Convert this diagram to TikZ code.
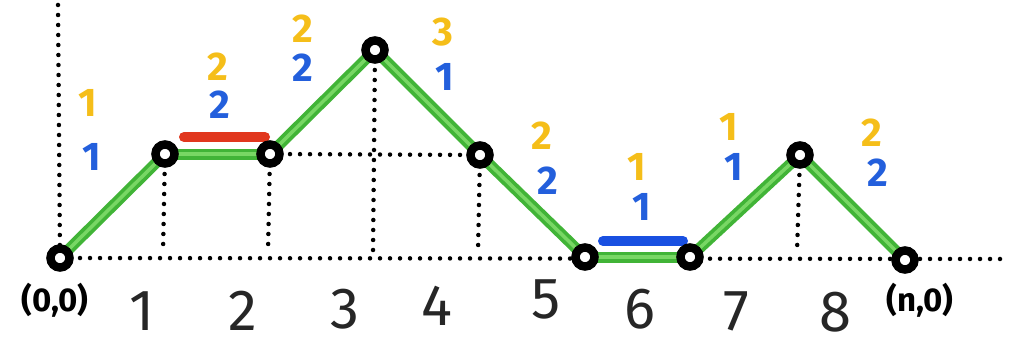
\documentclass[tikz,border=0pt]{standalone}
\usepackage{fontspec}
\setmainfont{Fira Sans}
\definecolor{pathgreen}{RGB}{65,180,55}
\definecolor{lightgreen}{RGB}{120,215,100}
\definecolor{myyellow}{RGB}{245,190,25}
\definecolor{myblue}{RGB}{35,95,220}
\definecolor{myred}{RGB}{225,55,30}
\definecolor{barblue}{RGB}{25,80,225}
\tikzset{
  pathseg/.style={draw=pathgreen,line width=11pt,line cap=round},
  pathhl/.style={draw=lightgreen,line width=3.5pt,line cap=round},
  dotline/.style={draw=black,line width=4.5pt,line cap=round,dash pattern=on 0pt off 10pt},
  vtx/.style={circle,draw=black,fill=white,line width=8.5pt,minimum size=19pt,inner sep=0pt},
  ylab/.style={text=myyellow,font=\fontsize{40}{40}\selectfont\bfseries},
  blab/.style={text=myblue,font=\fontsize{40}{40}\selectfont\bfseries},
  xlab/.style={text=black!85,anchor=base,inner sep=0pt,font=\fontsize{58}{58}\selectfont\mdseries},
  ptlab/.style={text=black,font=\fontsize{33}{33}\selectfont\bfseries},
  bar/.style={line width=10pt,line cap=round}
}
\begin{document}
\begin{tikzpicture}[x=1pt,y=-1pt]
\useasboundingbox[fill=white] (0,0) rectangle (1017,345);
% path vertices
\coordinate (c0) at (60,258);
\coordinate (c1) at (165,154);
\coordinate (c2) at (270,154);
\coordinate (c3) at (375,50);
\coordinate (c4) at (480,155);
\coordinate (c5) at (585,257);
\coordinate (c6) at (690,257);
\coordinate (c7) at (800,155);
\coordinate (c8) at (905,260);
% axis and grid feet
\coordinate (ytop) at (58,5);
\coordinate (xend) at (1008,259);
\coordinate (f1) at (163,252);
\coordinate (f2) at (268,252);
\coordinate (f3) at (373,252);
\coordinate (f4) at (478,252);
\coordinate (f7) at (797,252);
% dotted axes
\draw[dotline] (ytop) -- (c0);
\draw[dotline] (c0) -- (xend);
\draw[dotline] (c1) -- (f1);
\draw[dotline] (c2) -- (f2);
\draw[dotline] (c3) -- (f3);
\draw[dotline] (c4) -- (f4);
\draw[dotline] (c7) -- (f7);
\draw[dotline] (c2) -- (c4);
% green path
\foreach \a/\b in {c0/c1,c1/c2,c2/c3,c3/c4,c4/c5,c5/c6,c6/c7,c7/c8}{
  \draw[pathseg] (\a) -- (\b);
  \draw[pathhl] (\a) -- (\b);
}
% bars
\coordinate (r1) at (184,137);
\coordinate (r2) at (265,137);
\draw[bar,draw=myred] (r1) -- (r2);
\coordinate (b1) at (603,241);
\coordinate (b2) at (683,241);
\draw[bar,draw=barblue] (b1) -- (b2);
% vertices
\foreach \i in {0,...,8}{ \node[vtx] (p\i) at (c\i) {}; }
% step labels
\node[ylab] (y1) at (88,103) {1};
\node[blab] (w1) at (92,157) {1};
\node[ylab] (y2) at (218,67) {2};
\node[blab] (w2) at (220,105) {2};
\node[ylab] (y3) at (303,29) {2};
\node[blab] (w3) at (303,68) {2};
\node[ylab] (y4) at (443,32) {3};
\node[blab] (w4) at (445,77) {1};
\node[ylab] (y5) at (542,136) {2};
\node[blab] (w5) at (548,181) {2};
\node[ylab] (y6) at (637,167) {1};
\node[blab] (w6) at (642,207) {1};
\node[ylab] (y7) at (729,127) {1};
\node[blab] (w7) at (734,167) {1};
\node[ylab] (y8) at (872,133) {2};
\node[blab] (w8) at (878,173) {2};
% axis labels
\node[ptlab] (o) at (55,300) {(0,0)};
\node[ptlab] (n) at (920,300) {(n,0)};
\node[xlab] (x1) at (142,330) {1};
\node[xlab] (x2) at (243,330) {2};
\node[xlab] (x3) at (345,328) {3};
\node[xlab] (x4) at (437,325) {4};
\node[xlab] (x5) at (546,318) {5};
\node[xlab] (x6) at (640,328) {6};
\node[xlab] (x7) at (736,330) {7};
\node[xlab] (x8) at (835,331) {8};
\end{tikzpicture}
\end{document}
